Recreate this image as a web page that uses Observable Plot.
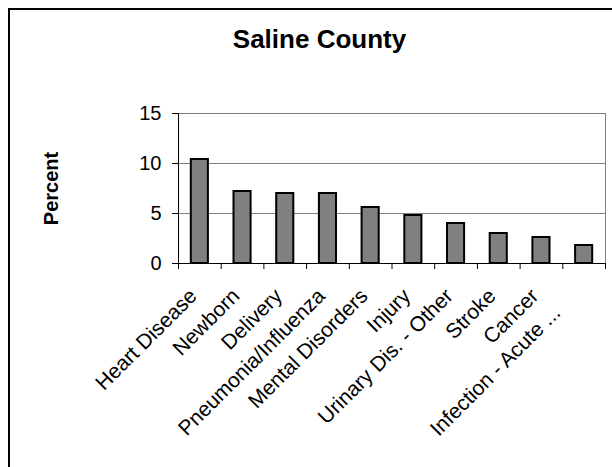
<!DOCTYPE html>
<html>
<head>
<meta charset="utf-8">
<script src="https://cdn.jsdelivr.net/npm/d3@7"></script>
<script src="https://cdn.jsdelivr.net/npm/@observablehq/plot@0.6"></script>
<style>
  html, body { margin: 0; padding: 0; background: #fff; }
  #wrap { position: relative; width: 612px; height: 467px; overflow: hidden; font-family: "Liberation Sans", Arial, sans-serif; }
  #frame { position: absolute; left: 8px; top: 8px; width: 700px; height: 600px; border: 2px solid #000; box-sizing: border-box; }
  #title { position: absolute; left: 209.5px; width: 220px; top: 26px; line-height: 1; text-align: center; font-size: 26px; font-weight: bold; color: #000; white-space: nowrap; }
  #chart { position: absolute; left: 0; top: 0; }
</style>
</head>
<body>
<div id="wrap">
  <div id="frame"></div>
  <div id="chart"></div>
  <div id="title"></div>
</div>
<script>
const title = "Saline County";
const yLabel = "Percent";
const categories = ["Heart Disease", "Newborn", "Delivery", "Pneumonia/Influenza", "Mental Disorders", "Injury", "Urinary Dis. - Other", "Stroke", "Cancer", "Infection - Acute ..."];
const values = [10.4, 7.2, 7.0, 7.0, 5.6, 4.8, 4.0, 3.0, 2.6, 1.8];
const yTicks = [0, 5, 10, 15];

document.getElementById("title").textContent = title;

const data = categories.map((c, i) => ({category: c, value: values[i], i}));
const n = categories.length;
const font = "Liberation Sans, Arial, sans-serif";
const isTruncated = d => d.category.endsWith("...");

const chart = Plot.plot({
  width: 612,
  height: 467,
  marginLeft: 178,
  marginRight: 7,
  marginTop: 113,
  marginBottom: 204,
  style: {fontFamily: font, fontSize: "20px", color: "#000", background: "transparent"},
  x: {domain: [0, n], axis: null},
  y: {domain: [0, 15], axis: null},
  marks: [
    Plot.ruleY(yTicks.filter(d => d > 0), {stroke: "#808080", strokeWidth: 1}),
    Plot.ruleX([n], {y1: 0, y2: 15, stroke: "#808080", strokeWidth: 1}),
    Plot.rectY(data, {x1: d => d.i, x2: d => d.i + 1, y: "value", insetLeft: 12.8, insetRight: 12.8, fill: "#808080", stroke: "#000", strokeWidth: 2}),
    Plot.ruleX([0], {y1: 0, y2: 15, stroke: "#000", strokeWidth: 1}),
    Plot.ruleY([0], {stroke: "#000", strokeWidth: 1}),
    Plot.axisX(d3.range(n + 1), {tickSize: 6, tickFormat: () => "", stroke: "#000"}),
    Plot.axisY(yTicks, {tickSize: 6, tickPadding: 11, fontSize: 20, stroke: "#000", fill: "#000", label: null}),
    Plot.text(data.filter(d => !isTruncated(d)), {x: d => d.i + 0.5, y: 0, text: "category", rotate: -45, textAnchor: "end", lineAnchor: "top", dx: -12.3, dy: 23.2, fontSize: 21, fill: "#000"}),
    Plot.text(data.filter(isTruncated), {x: d => d.i + 0.5, y: 0, text: "category", rotate: -45, textAnchor: "end", lineAnchor: "top", dx: -33, dy: 40, fontSize: 21, fill: "#000"}),
    Plot.text([yLabel], {frameAnchor: "left", text: d => d, rotate: -90, textAnchor: "middle", dx: -127, fontWeight: "bold", fontSize: 20, fill: "#000"})
  ]
});
document.getElementById("chart").appendChild(chart);
</script>
</body>
</html>
